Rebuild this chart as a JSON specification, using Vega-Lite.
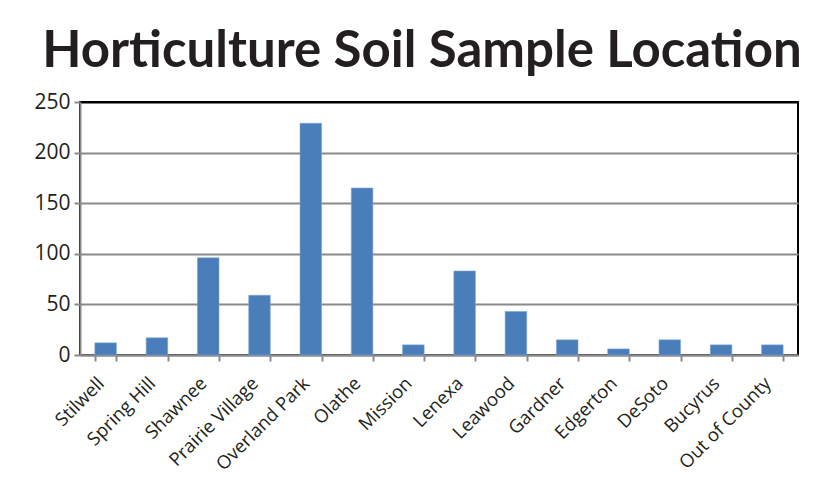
{
  "$schema": "https://vega.github.io/schema/vega-lite/v6.json",
  "autosize": "none",
  "width": 718,
  "height": 253,
  "padding": {"left": 80, "top": 102, "right": 30, "bottom": 136},
  "background": "white",
  "title": {
    "text": "Horticulture Soil Sample Location",
    "font": "Lato",
    "fontWeight": "bold",
    "fontSize": 51,
    "color": "#231f20",
    "anchor": "middle",
    "baseline": "alphabetic",
    "dx": -17,
    "dy": 61,
    "offset": 34
  },
  "data": {
    "values": [
      {"location": "Stilwell", "samples": 12},
      {"location": "Spring Hill", "samples": 17},
      {"location": "Shawnee", "samples": 96},
      {"location": "Prairie Village", "samples": 59},
      {"location": "Overland Park", "samples": 229},
      {"location": "Olathe", "samples": 165},
      {"location": "Mission", "samples": 10},
      {"location": "Lenexa", "samples": 83},
      {"location": "Leawood", "samples": 43},
      {"location": "Gardner", "samples": 15},
      {"location": "Edgerton", "samples": 6},
      {"location": "DeSoto", "samples": 15},
      {"location": "Bucyrus", "samples": 10},
      {"location": "Out of County", "samples": 10}
    ]
  },
  "mark": {"type": "bar", "color": "#4a7ebb", "stroke": "#7aa3d6", "strokeWidth": 0.6},
  "encoding": {
    "x": {
      "field": "location",
      "type": "nominal",
      "sort": null,
      "scale": {"paddingInner": 0.58, "paddingOuter": 0.29},
      "axis": {
        "title": null,
        "labelAngle": -45,
        "labelAlign": "right",
        "labelBaseline": "middle",
        "labelFont": "Open Sans",
        "labelFontSize": 18.5,
        "labelColor": "#231f20",
        "labelPadding": 19,
        "labelOffset": -5,
        "tickBand": "extent",
        "tickColor": "#8a8a8a",
        "tickWidth": 2,
        "tickSize": 6,
        "domainColor": "#8a8a8a",
        "domainWidth": 2,
        "grid": false
      }
    },
    "y": {
      "field": "samples",
      "type": "quantitative",
      "scale": {"domain": [0, 250], "nice": false},
      "axis": {
        "title": null,
        "values": [0, 50, 100, 150, 200, 250],
        "labelFont": "Open Sans",
        "labelFontSize": 21,
        "labelColor": "#231f20",
        "labelPadding": 4,
        "tickColor": "#8a8a8a",
        "tickWidth": 2,
        "tickSize": 6,
        "domainColor": "#8a8a8a",
        "domainWidth": 2,
        "grid": true,
        "gridColor": {"condition": {"test": "datum.value === 250", "value": "#000000"}, "value": "#8a8a8a"},
        "gridWidth": 2
      }
    }
  },
  "config": {
    "view": {"stroke": "#000000", "strokeWidth": 2}
  }
}
